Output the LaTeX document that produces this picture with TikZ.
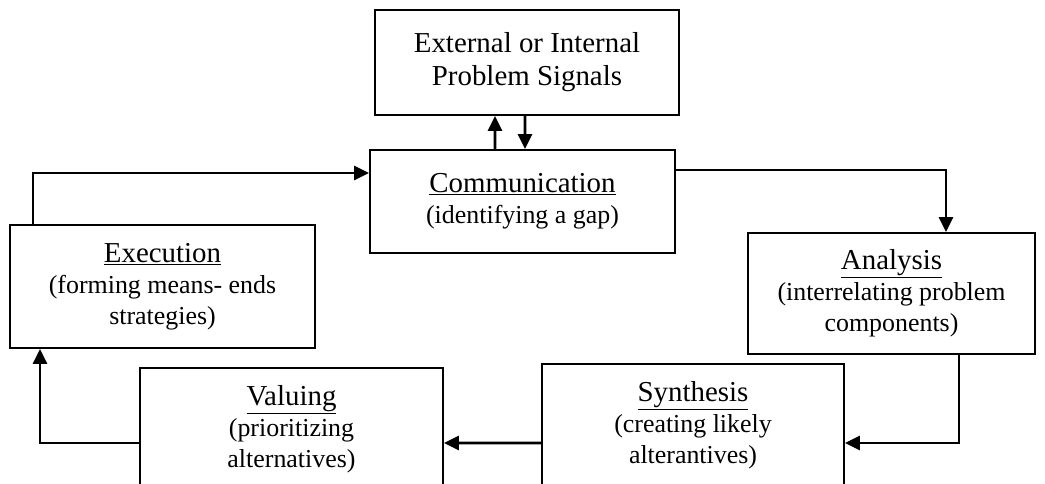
\documentclass[tikz,border=0pt]{standalone}
\usepackage{fontspec}
\setmainfont{Liberation Serif}
\usetikzlibrary{arrows.meta}
\tikzset{
  box/.style={draw, line width=1.8bp, align=center, inner sep=0pt,
    font=\fontsize{26}{31}\selectfont},
  arr/.style={line width=2.6bp, -{Triangle[length=15bp,width=14bp]}},
}
\newcommand{\hd}[1]{{\fontsize{29}{31}\selectfont\underline{#1}}}
\begin{document}
\begin{tikzpicture}[x=1bp,y=-1bp]
\useasboundingbox (0,0) rectangle (1045,484);
\clip (0,0) rectangle (1045,484);
\node[box, minimum width=304bp, minimum height=105bp, font=\fontsize{29}{33}\selectfont] (ext) at (527,62.5) {External or Internal\\Problem Signals};
\node[box, minimum width=305bp, minimum height=103bp] (comm) at (522.5,201.5) {\hd{Communication}\\(identifying a gap)};
\node[box, minimum width=305bp, minimum height=123bp] (exe) at (162.5,286.5) {\hd{Execution}\\(forming means- ends\\strategies)};
\node[box, minimum width=287bp, minimum height=121bp] (ana) at (891.5,293.5) {\hd{Analysis}\\(interrelating problem\\components)};
\node[box, minimum width=303bp, minimum height=122bp] (val) at (291.5,429) {\hd{Valuing}\\(prioritizing\\alternatives)};
\node[box, minimum width=302bp, minimum height=122bp] (syn) at (693,425) {\hd{Synthesis}\\(creating likely\\alterantives)};
\draw[arr] ([xshift=-27.5bp]comm.north) -- ([xshift=-32bp]ext.south);
\draw[arr] ([xshift=-2bp]ext.south) -- ([xshift=2.5bp]comm.north);
\draw[arr] ([xshift=24bp]exe.north west) |- ([yshift=28.5bp]comm.west);
\draw[arr] ([yshift=31.5bp]comm.east) -| ([xshift=54.5bp]ana.north);
\draw[arr] ([xshift=67.5bp]ana.south) |- ([yshift=-18bp]syn.east);
\draw[arr] ([yshift=-18bp]syn.west) -- ([yshift=-14bp]val.east);
\draw[arr] ([yshift=-14bp]val.west) -| ([xshift=-122.5bp]exe.south);
\end{tikzpicture}
\end{document}
